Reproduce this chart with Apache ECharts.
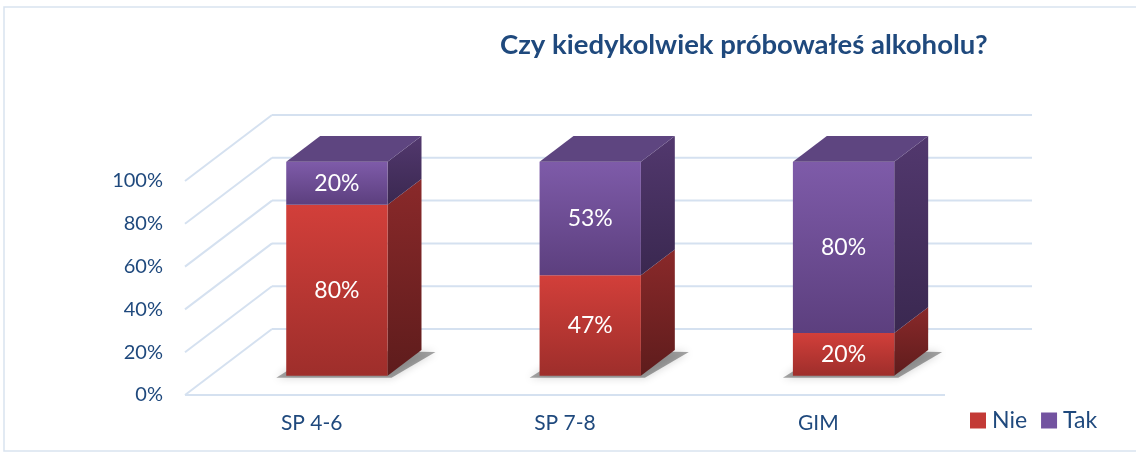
<!DOCTYPE html>
<html><head><meta charset="utf-8">
<script src="https://cdn.jsdelivr.net/npm/echarts@6/dist/echarts.min.js"></script>
<style>html,body{margin:0;padding:0;background:#fff}#c{width:1136px;height:454px}</style>
</head><body><div id="c"></div>
<script>
const categories = ['SP 4-6', 'SP 7-8', 'GIM'];
const nie = [80, 47, 20];
const tak = [20, 53, 80];
const yTicks = [0, 20, 40, 60, 80, 100];
const titleText = 'Czy kiedykolwiek próbowałeś alkoholu?';

const DX = 87, DY = -66;       // wall depth
const F0 = 0.29, F1 = 0.68;    // bar depth range
const BAR_FRAC = 0.4;
const FONT = 'Lato';
const TXT = '#1F497D';

const chart = echarts.init(document.getElementById('c'));

function grad(c1, c2) {
  return {type: 'linear', x: 0, y: 0, x2: 0, y2: 1, colorStops: [{offset: 0, color: c1}, {offset: 1, color: c2}]};
}
const PAL = {
  Nie: {front: grad('#D23F3A', '#9E2E2B'), side: grad('#8A292A', '#5E1C1C'), top: '#B03431', legend: '#C33A36'},
  Tak: {front: grad('#7E5BA9', '#5C3F7E'), side: grad('#52386E', '#3A2850'), top: '#5E4580', legend: '#7353A0'}
};

function wallsRender(params, api) {
  const cs = params.coordSys;
  const v = api.value(0);
  const p = api.coord([0, v]);
  const x0 = cs.x, y = p[1];
  const children = [];
  const st = {stroke: '#D5E1F0', lineWidth: 2, fill: null};
  children.push({type: 'line', shape: {x1: x0, y1: y, x2: x0 + DX, y2: y + DY}, style: st});
  children.push({type: 'line', shape: {x1: x0 + DX, y1: y + DY, x2: x0 + DX + cs.width, y2: y + DY}, style: st});
  if (v === 0) {
    children.push({type: 'line', shape: {x1: x0, y1: y, x2: x0 + cs.width, y2: y}, style: st});
  }
  return {type: 'group', children: children};
}

function barRender(name, isTop) {
  return function (params, api) {
    const idx = api.value(0), lo = api.value(1), hi = api.value(2);
    const p0 = api.coord([idx, lo]);
    const p1 = api.coord([idx, hi]);
    const w = api.size([1, 0])[0] * BAR_FRAC;
    const xl = p0[0] - w / 2 + F0 * DX, xr = xl + w;
    const yb = p0[1] + F0 * DY, yt = p1[1] + F0 * DY;
    const dx = (F1 - F0) * DX, dy = (F1 - F0) * DY;
    const pal = PAL[name];
    const children = [];
    if (lo === 0) {
      children.push({type: 'polygon', shape: {points: [[xl - 10, yb + 2], [xr + 4, yb + 2], [xr + dx + 14, yb + dy + 2], [xl + dx, yb + dy]]},
        style: {fill: 'rgba(0,0,0,0.35)', shadowBlur: 8, shadowColor: 'rgba(0,0,0,0.5)'}, z2: 0});
    }
    children.push({type: 'polygon', shape: {points: [[xr, yb], [xr + dx, yb + dy], [xr + dx, yt + dy], [xr, yt]]}, style: {fill: pal.side}, z2: 1});
    children.push({type: 'rect', shape: {x: xl, y: yt, width: w, height: yb - yt}, style: {fill: pal.front}, z2: 1});
    if (isTop) {
      children.push({type: 'polygon', shape: {points: [[xl, yt], [xl + dx, yt + dy], [xr + dx, yt + dy], [xr, yt]]}, style: {fill: pal.top}, z2: 1});
    }
    children.push({type: 'text', x: (xl + xr) / 2, y: (yt + yb) / 2,
      style: {text: (hi - lo) + '%', fill: '#fff', font: '23px ' + FONT, align: 'center', verticalAlign: 'middle'}, z2: 3});
    return {type: 'group', children: children};
  };
}

chart.setOption({
  animation: false,
  title: {text: titleText, left: 495, top: 26, textStyle: {fontFamily: FONT, fontWeight: 'bold', fontSize: 27.5, color: TXT}},
  graphic: [{type: 'rect', shape: {x: 4, y: 7, width: 1200, height: 444}, style: {fill: null, stroke: '#D9E3F0', lineWidth: 1.5}, silent: true}],
  legend: {left: 965, top: 404, itemWidth: 16, itemHeight: 16, itemGap: 14, icon: 'rect',
    textStyle: {fontFamily: FONT, fontSize: 23, color: TXT, padding: [0, 0, 0, 1]},
    data: ['Nie', 'Tak']},
  grid: {left: 185, right: 191, top: 181, bottom: 59},
  xAxis: {type: 'category', data: categories, axisLine: {show: false}, axisTick: {show: false},
    axisLabel: {fontFamily: FONT, fontSize: 21, color: TXT, margin: 18}},
  yAxis: {type: 'value', min: 0, max: 100, interval: 20, axisLine: {show: false}, axisTick: {show: false}, splitLine: {show: false},
    axisLabel: {fontFamily: FONT, fontSize: 20, color: TXT, margin: 22, formatter: '{value}%'}},
  series: [
    {type: 'custom', name: 'walls', renderItem: wallsRender, data: yTicks.map(v => [v]), encode: {y: 0}, silent: true, z: 1},
    {type: 'custom', name: 'Nie', renderItem: barRender('Nie', false), itemStyle: {color: PAL.Nie.legend},
      data: categories.map((c, i) => [i, 0, nie[i]]), encode: {x: 0, y: [1, 2]}, z: 2},
    {type: 'custom', name: 'Tak', renderItem: barRender('Tak', true), itemStyle: {color: PAL.Tak.legend},
      data: categories.map((c, i) => [i, nie[i], nie[i] + tak[i]]), encode: {x: 0, y: [1, 2]}, z: 3}
  ]
});
</script></body></html>
